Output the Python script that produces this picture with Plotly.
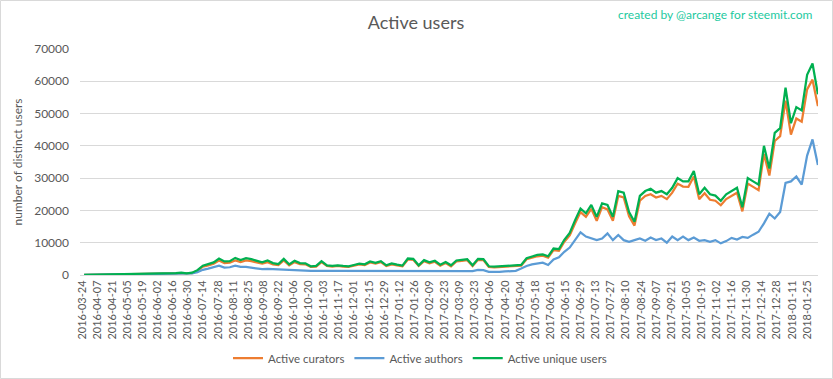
import pandas as pd
import plotly.graph_objects as go

# Sample dates: every 5 days starting 2016-03-26
start_date = "2016-03-26"
step_days = 5

active_unique_users = [
    60, 80, 90, 100, 120, 150, 200, 250, 280, 300,
    300, 320, 330, 350, 380, 400, 450, 600, 700, 500,
    700, 1500, 2900, 3300, 3900, 5100, 4200, 4300, 5300, 4600,
    5200, 4900, 4300, 3900, 4500, 3700, 3400, 5000, 3300, 4400,
    3700, 3600, 2700, 2800, 4300, 3000, 2800, 3000, 2800, 2700,
    3100, 3500, 3300, 4200, 3800, 4300, 3000, 3600, 3200, 2900,
    5100, 5000, 3000, 4600, 3900, 4400, 3200, 4000, 3000, 4500,
    4700, 4900, 3000, 5000, 4900, 2700, 2600, 2700, 2900, 2900,
    2900, 3100, 5200, 5800, 6200, 6400, 5800, 8200, 8000, 10900,
    13000, 17000, 20600, 19100, 21700, 18000, 22200, 21700, 18000, 26000,
    25500, 19500, 16500, 24500, 26000, 26700, 25500, 26000, 25000, 27000,
    30000, 29000, 29000, 32200, 25000, 27000, 25000, 24600, 23000, 25000,
    26000, 27000, 21000, 30000, 29000, 28000, 40000, 33000, 44000, 45500,
    58000, 47000, 52000, 51000, 62000, 65500, 56000,
]

active_curators = [
    50, 70, 80, 90, 100, 130, 170, 220, 250, 270,
    270, 290, 300, 320, 340, 360, 400, 540, 630, 450,
    600, 1300, 2600, 3000, 3500, 4500, 3700, 3800, 4500, 4000,
    4500, 4300, 3800, 3500, 4000, 3300, 3100, 4500, 3000, 4000,
    3400, 3300, 2500, 2600, 4000, 2800, 2600, 2800, 2600, 2500,
    2900, 3300, 3100, 3900, 3500, 4000, 2800, 3300, 3000, 2700,
    4800, 4700, 2800, 4300, 3600, 4100, 2900, 3700, 2700, 4200,
    4400, 4600, 2800, 4700, 4600, 2500, 2400, 2500, 2700, 2700,
    2700, 2900, 4900, 5400, 5800, 6000, 5400, 7700, 7500, 10300,
    12300, 16000, 19500, 18000, 20500, 16800, 21000, 20300, 16800, 24500,
    24000, 18200, 15300, 23000, 24500, 25000, 24000, 24500, 23500, 25500,
    28300, 27400, 27300, 30500, 23500, 25300, 23300, 23000, 21600, 23500,
    24500, 25500, 19700, 28300, 27300, 26300, 37500, 30800, 41500, 43000,
    54000, 43500, 48500, 47500, 57500, 60500, 52300,
]

active_authors = [
    30, 50, 60, 70, 80, 100, 120, 150, 170, 180,
    190, 200, 210, 220, 230, 250, 280, 350, 400, 350,
    500, 900, 1600, 2000, 2400, 2900, 2300, 2400, 2900, 2500,
    2500, 2300, 2100, 1800, 1900, 1800, 1700, 1700, 1600, 1600,
    1500, 1400, 1300, 1300, 1400, 1300, 1300, 1300, 1200, 1200,
    1300, 1400, 1300, 1400, 1300, 1400, 1200, 1300, 1300, 1200,
    1400, 1400, 1200, 1300, 1200, 1300, 1200, 1200, 1200, 1300,
    1300, 1300, 1200, 1600, 1500, 1000, 900, 1000, 1100, 1200,
    1300, 2000, 2800, 3300, 3600, 3800, 3100, 4800, 5500, 7200,
    8500, 10800, 13200, 11900, 11300, 10800, 11300, 12900, 10800, 12400,
    10800, 10300, 10800, 11300, 10600, 11600, 10800, 11300, 10000, 11900,
    10800, 11900, 10800, 11600, 10600, 10800, 10300, 10800, 9800, 10500,
    11500, 11000, 11800, 11500, 12500, 13400, 16000, 19000, 17500, 19500,
    28500, 29000, 30500, 28000, 37000, 42000, 34100,
]

dates = pd.date_range(start_date, periods=len(active_unique_users), freq=f"{step_days}D")

tick_dates = pd.date_range("2016-03-24", "2018-01-25", freq="14D")
tick_labels = [d.strftime("%Y-%m-%d") for d in tick_dates]

y_ticks = [0, 10000, 20000, 30000, 40000, 50000, 60000, 70000]

series = [
    ("Active curators", active_curators, "#ED7D31"),
    ("Active authors", active_authors, "#5B9BD5"),
    ("Active unique users", active_unique_users, "#00B050"),
]

FONT = "Lato, 'Open Sans', sans-serif"
GREY = "#595959"

fig = go.Figure()
for name, vals, color in series:
    fig.add_trace(go.Scatter(
        x=dates, y=vals, name=name, mode="lines",
        line=dict(color=color, width=2.25),
    ))

W, H = 833, 379
L, R, T, B = 80, 15, 49, 104
pw, ph = W - L - R, H - T - B

def px(xp):
    return (xp - L) / pw

def py(yp):
    return (H - B - yp) / ph

fig.update_layout(
    width=W, height=H,
    margin=dict(l=L, r=R, t=T, b=B, pad=0, autoexpand=False),
    paper_bgcolor="white", plot_bgcolor="white",
    font=dict(family=FONT, color=GREY, size=11),
    title=dict(text="Active users", x=416 / W, xanchor="center",
               y=1 - 23 / H, yanchor="middle", automargin=False,
               font=dict(size=18, color=GREY, family=FONT)),
    xaxis=dict(
        type="date", automargin=False,
        range=["2016-03-22 04:00", "2018-02-04 02:00"],
        tickmode="array", tickvals=list(tick_dates), ticktext=tick_labels,
        tickangle=-90, tickfont=dict(size=11, color=GREY),
        showgrid=False, showline=True, linecolor="#d9d9d9", linewidth=1,
        ticks="", zeroline=False,
    ),
    yaxis=dict(
        range=[0, 70000], tickmode="array", tickvals=y_ticks, automargin=False,
        ticktext=[str(v) for v in y_ticks],
        tickfont=dict(size=12, color=GREY),
        showgrid=True, gridcolor="#d9d9d9", gridwidth=1,
        zeroline=False, ticks="", ticklabelstandoff=10,
        title=dict(text="number of distinct users", font=dict(size=12, color=GREY), standoff=8),
    ),
    legend=dict(
        orientation="h", x=px(420), xanchor="center", y=py(358), yanchor="middle",
        font=dict(size=11.5, color=GREY), itemwidth=30, bgcolor="rgba(0,0,0,0)",
    ),
    showlegend=True,
)

fig.add_annotation(
    text="created by @arcange for steemit.com", xref="paper", yref="paper",
    x=px(815), xanchor="right", y=py(14), yanchor="middle", showarrow=False,
    font=dict(size=12, color="#1DC9A0", family=FONT),
)

fig.add_shape(
    type="rect", xref="paper", yref="paper",
    x0=px(0.5), x1=px(832.5), y0=py(378.5), y1=py(0.5),
    line=dict(color="#d9d9d9", width=1), fillcolor="rgba(0,0,0,0)", layer="below",
)

fig.write_html("out.html", config={"displayModeBar": False},
               post_script="document.body.style.margin='0px';")
